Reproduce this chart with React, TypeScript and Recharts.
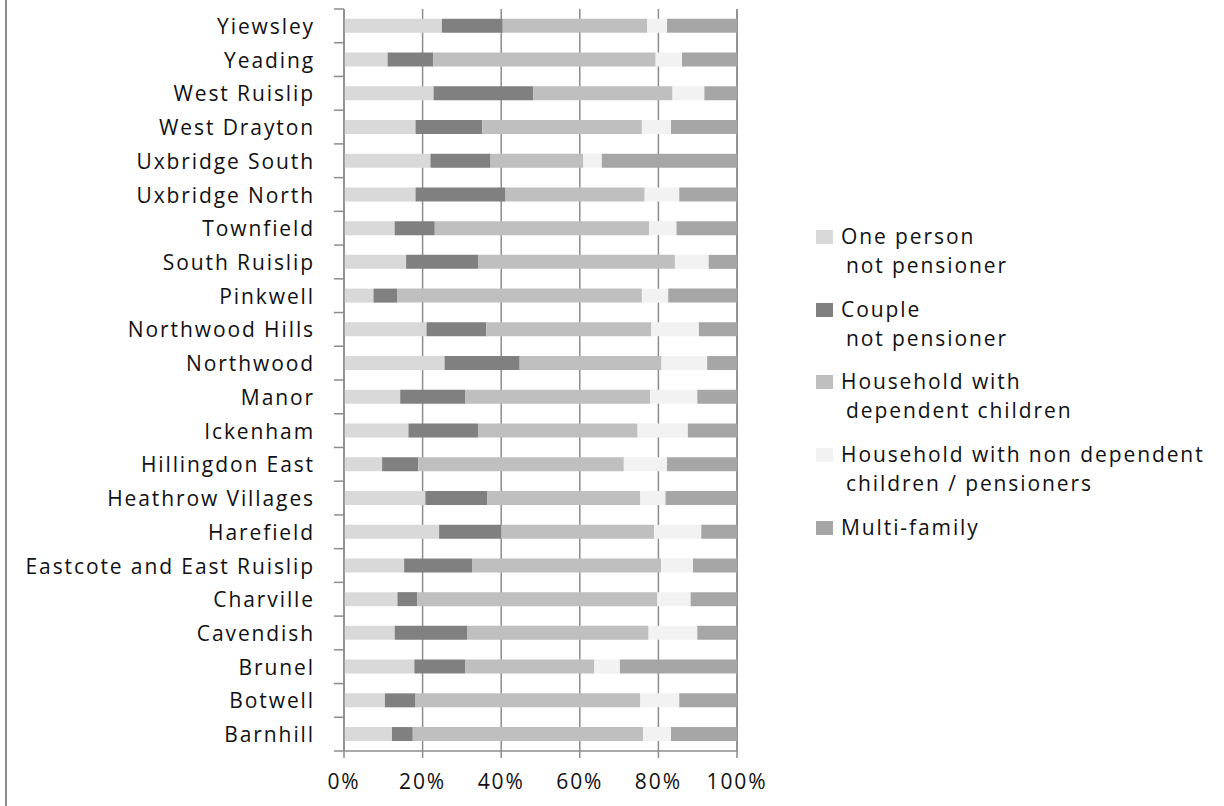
import { BarChart, Bar, XAxis, YAxis, CartesianGrid } from 'recharts';

const categories = [
  'Yiewsley', 'Yeading', 'West Ruislip', 'West Drayton', 'Uxbridge South', 'Uxbridge North',
  'Townfield', 'South Ruislip', 'Pinkwell', 'Northwood Hills', 'Northwood', 'Manor',
  'Ickenham', 'Hillingdon East', 'Heathrow Villages', 'Harefield', 'Eastcote and East Ruislip',
  'Charville', 'Cavendish', 'Brunel', 'Botwell', 'Barnhill',
];

const onePerson = [24.9, 11.1, 22.8, 18.2, 22.0, 18.2, 12.9, 15.8, 7.5, 21.0, 25.6, 14.3, 16.4, 9.7, 20.7, 24.2, 15.3, 13.6, 12.9, 17.9, 10.4, 12.2];
const couple = [15.5, 11.6, 25.4, 17.0, 15.3, 22.9, 10.2, 18.3, 6.1, 15.2, 19.1, 16.5, 17.7, 9.2, 15.8, 15.8, 17.4, 5.0, 18.4, 13.0, 7.8, 5.3];
const dependentChildren = [36.7, 56.6, 35.4, 40.6, 23.6, 35.4, 54.5, 50.1, 62.2, 42.0, 36.1, 47.1, 40.6, 52.3, 38.9, 38.9, 48.0, 61.1, 46.2, 32.8, 57.2, 58.6];
const nonDependent = [5.1, 6.7, 8.1, 7.4, 4.7, 8.8, 7.0, 8.6, 6.7, 12.1, 11.6, 12.0, 12.8, 11.0, 6.4, 12.0, 8.1, 8.5, 12.4, 6.5, 9.9, 7.1];
const multiFamily = [17.8, 14.0, 8.3, 16.8, 34.4, 14.7, 15.4, 7.2, 17.5, 9.7, 7.6, 10.1, 12.5, 17.8, 18.2, 9.1, 11.2, 11.8, 10.1, 29.8, 14.7, 16.8];

const xTicks = [0, 20, 40, 60, 80, 100];

const series = [
  { key: 'onePerson', color: '#d9d9d9', label: ['One person', 'not pensioner'] },
  { key: 'couple', color: '#808080', label: ['Couple', 'not pensioner'] },
  { key: 'dependentChildren', color: '#bfbfbf', label: ['Household with', 'dependent children'] },
  { key: 'nonDependent', color: '#f2f2f2', label: ['Household with non dependent', 'children / pensioners'] },
  { key: 'multiFamily', color: '#a6a6a6', label: ['Multi-family'] },
];

const data = categories.map((name, i) => ({
  name,
  onePerson: onePerson[i],
  couple: couple[i],
  dependentChildren: dependentChildren[i],
  nonDependent: nonDependent[i],
  multiFamily: multiFamily[i],
}));

const FONT = '"Open Sans", sans-serif';
const FONT_SIZE = 21;
const SPACING = 1.9;
const AXIS = '#8c8c8c';
const TOP = 9;
const BOTTOM = 751;
const BAND = (BOTTOM - TOP) / categories.length;

function CategoryTick(props: any) {
  const { x, y, payload, index } = props;
  return (
    <g>
      <text x={x - 29} y={y} textAnchor="end" dominantBaseline="central"
        fontFamily={FONT} fontSize={FONT_SIZE} letterSpacing={SPACING} fill="#111">
        {payload.value}
      </text>
      <line x1={x - 10} x2={x} y1={y - BAND / 2} y2={y - BAND / 2} stroke={AXIS} strokeWidth={1.5} />
      {index === categories.length - 1 && (
        <line x1={x - 10} x2={x} y1={y + BAND / 2} y2={y + BAND / 2} stroke={AXIS} strokeWidth={1.5} />
      )}
    </g>
  );
}

function LegendBox() {
  return (
    <div style={{ position: 'absolute', left: 816, top: 229, fontFamily: FONT, fontSize: FONT_SIZE, letterSpacing: SPACING, color: '#111' }}>
      {series.map((s) => (
        <div key={s.key} style={{ position: 'relative', height: 72.7 }}>
          <div style={{ position: 'absolute', left: 0, top: 1, width: 17, height: 14, background: s.color }} />
          <div style={{ position: 'absolute', left: 25, top: -7, lineHeight: '29px', whiteSpace: 'nowrap' }}>
            {s.label[0]}
          </div>
          {s.label[1] && (
            <div style={{ position: 'absolute', left: 30, top: 22, lineHeight: '29px', whiteSpace: 'nowrap' }}>
              {s.label[1]}
            </div>
          )}
        </div>
      ))}
    </div>
  );
}

export default function App() {
  return (
    <div style={{ position: 'absolute', left: 0, top: 0, width: 1224, height: 806, background: '#fff', overflow: 'hidden' }}>
      <div style={{ position: 'absolute', left: 5, top: 0, width: 2, height: 806, background: AXIS }} />
      <BarChart
        width={1224}
        height={806}
        data={data}
        layout="vertical"
        barCategoryGap="29%"
        margin={{ top: TOP, right: 487, bottom: 0, left: 0 }}
      >
        <CartesianGrid horizontal={false} stroke={AXIS} strokeWidth={1.5} />
        <XAxis
          type="number"
          domain={[0, 100]}
          ticks={xTicks}
          height={806 - BOTTOM}
          tickFormatter={(v) => `${v}%`}
          tickSize={7}
          tickMargin={16}
          stroke={AXIS}
          strokeWidth={1.5}
          tick={{ fontFamily: FONT, fontSize: FONT_SIZE, letterSpacing: SPACING, fill: '#111' }}
        />
        <YAxis
          type="category"
          dataKey="name"
          width={344}
          interval={0}
          tickLine={false}
          tickSize={0}
          tickMargin={0}
          stroke={AXIS}
          strokeWidth={1.5}
          tick={<CategoryTick />}
        />
        {series.map((s) => (
          <Bar key={s.key} dataKey={s.key} stackId="a" fill={s.color} isAnimationActive={false} />
        ))}
      </BarChart>
      <LegendBox />
    </div>
  );
}
